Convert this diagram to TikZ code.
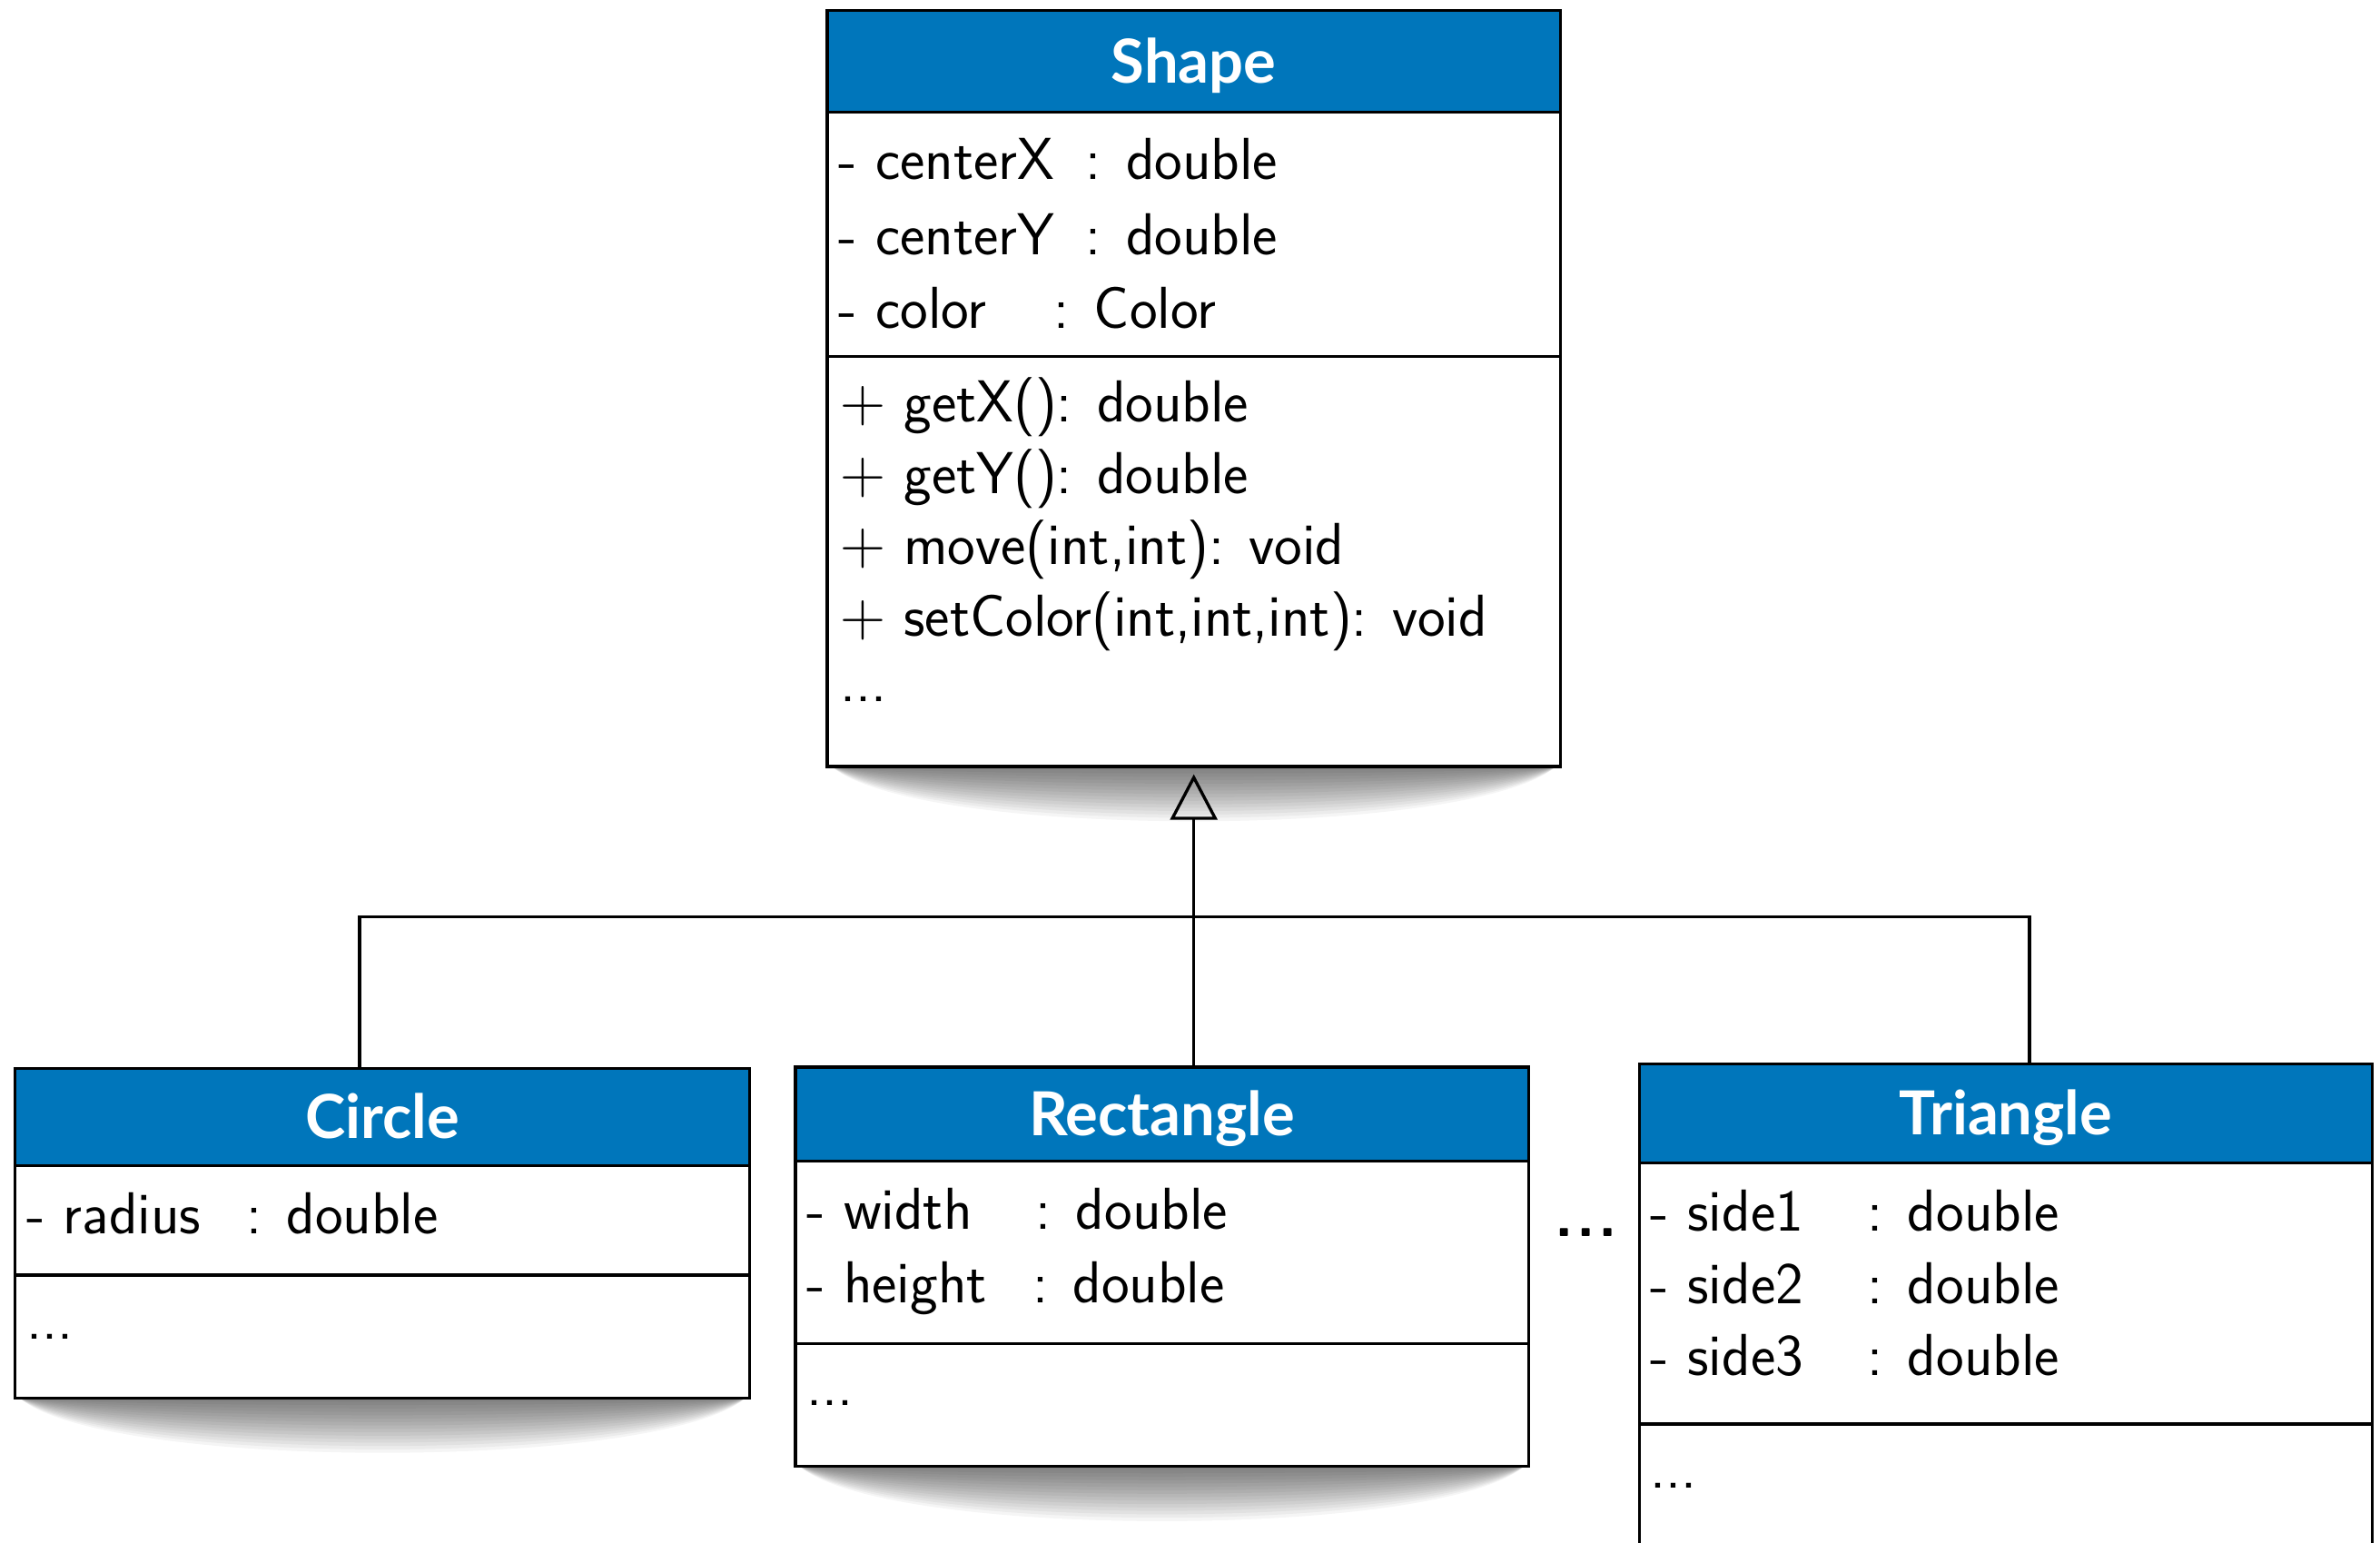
\documentclass[tikz,border=0pt]{standalone}
\usepackage{fontspec}
\newfontfamily\headfont{Lato}
\usetikzlibrary{fit,arrows.meta}

\definecolor{umlblue}{RGB}{0,118,187}

\tikzset{
  hdr/.style={draw=black, line width=1pt, fill=umlblue, inner sep=0pt},
  comp/.style={draw=black, line width=1pt, fill=white, inner sep=0pt},
  title/.style={font=\headfont\bfseries\fontsize{20}{24}\selectfont, text=white, anchor=base, inner sep=0pt},
  member/.style={font=\sffamily\fontsize{19.5}{23}\selectfont, anchor=base west, inner sep=0pt},
  link/.style={line width=1pt},
  inherit/.style={link, -{Triangle[open, length=15pt, width=15.5pt, line width=1pt]}, shorten >=2pt},
  shadowlayer/.style={fill=black, opacity=0.04, draw=none}
}

% soft curved drop shadow under a class box: left x, right x, bottom y
% (stacked translucent bands of growing depth)
\newcommand\boxshadow[3]{%
  \foreach \d in {3,6,...,48}{%
    \fill[shadowlayer] (#1+3,#3) -- (#2-3,#3)
      .. controls (#2-60,#3+\d) and (#1+60,#3+\d) .. (#1+3,#3) -- cycle;}}

\begin{document}
\begin{tikzpicture}[x=0.5pt, y=-0.5pt]
\clip (0,0) rectangle (1568,1016.4);
\fill[white] (0,0) rectangle (1568,1016.4);

% shadows
\boxshadow{545}{1028}{505}
\boxshadow{10}{494}{921}
\boxshadow{524}{1007}{966}

% ---- Shape ----
\node[comp, fit={(545,74)(1028,235)}] (shapeA) {};
\node[comp, fit={(545,235)(1028,505)}] (shapeM) {};
\node[hdr, fit={(545,7)(1028,74)}] (shapeH) {};
\node[title] (shapeT) at (786.5,54.5) {Shape};
\node[member] (sa1) at (552,118) {- centerX};
\node[member] (sa1t) at (715,118) {: double};
\node[member] (sa2) at (552,168) {- centerY};
\node[member] (sa2t) at (715,168) {: double};
\node[member] (sa3) at (552,216) {- color};
\node[member] (sa3t) at (694,216) {: Color};
\node[member] (sm1) at (553,278) {$+$ getX(): double};
\node[member] (sm2) at (553,325) {$+$ getY(): double};
\node[member] (sm3) at (553,372) {$+$ move(int,int): void};
\node[member] (sm4) at (553,419) {$+$ setColor(int,int,int): void};
\node[member] (sm5) at (553,462) {...};

% ---- Circle ----
\node[comp, fit={(10,768)(494,840)}] (circA) {};
\node[comp, fit={(10,840)(494,921)}] (circM) {};
\node[hdr, fit={(10,704)(494,768)}] (circH) {};
\node[title] (circT) at (252,750) {Circle};
\node[member] (ca1) at (17,813) {- radius};
\node[member] (ca1t) at (162,813) {: double};
\node[member] (cm1) at (17,882) {...};

% ---- Rectangle ----
\node[comp, fit={(524,765)(1007,885)}] (rectA) {};
\node[comp, fit={(524,885)(1007,966)}] (rectM) {};
\node[hdr, fit={(524,703)(1007,765)}] (rectH) {};
\node[title] (rectT) at (765.5,748) {Rectangle};
\node[member] (ra1) at (531,810) {- width};
\node[member] (ra1t) at (682,810) {: double};
\node[member] (ra2) at (531,858) {- height};
\node[member] (ra2t) at (680,858) {: double};
\node[member] (rm1) at (531,926) {...};

% ---- Triangle ----
\node[comp, fit={(1080,766)(1563,938)}] (triA) {};
\node[comp, fit={(1080,938)(1563,1070)}] (triM) {};
\node[hdr, fit={(1080,701)(1563,766)}] (triH) {};
\node[title] (triT) at (1321.5,747.5) {Triangle};
\node[member] (ta1) at (1087,811) {- side1};
\node[member] (ta1t) at (1230,811) {: double};
\node[member] (ta2) at (1087,859) {- side2};
\node[member] (ta2t) at (1230,859) {: double};
\node[member] (ta3) at (1087,906) {- side3};
\node[member] (ta3t) at (1230,906) {: double};
\node[member] (tm1) at (1087,980) {...};

% further subclasses
\node[font=\sffamily\bfseries\fontsize{20}{24}\selectfont, inner sep=0pt] (more) at (1045,812) {.\kern1pt.\kern1pt.};

% ---- generalisation ----
\coordinate (busL) at (237,604);
\coordinate (busR) at (1337,604);
\draw[link] (circH.north -| busL) -- (busL) -- (busR) -- (triH.north -| busR);
\draw[inherit] (rectH.north -| shapeM.south) -- (shapeM.south);
\end{tikzpicture}
\end{document}
